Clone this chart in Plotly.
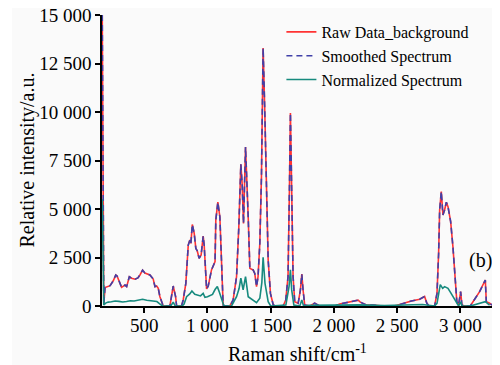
import plotly.graph_objects as go

# Raman shift (cm^-1) positions
raw_x = [168, 180, 190, 210, 230, 255, 275, 285, 303, 321, 348, 361, 382, 400, 427, 450, 466, 487, 505, 519,
         545, 571, 585, 598, 611, 624, 650, 703, 729, 748, 756, 795, 808, 829, 848, 861, 869, 880, 895, 908,
         919, 934, 950, 966, 974, 993, 1006, 1032, 1051, 1060, 1066, 1082, 1098, 1116, 1124, 1137, 1177, 1203,
         1230, 1248, 1264, 1274, 1285, 1301, 1311, 1322, 1335, 1361, 1374, 1388, 1400, 1414, 1427, 1440, 1453,
         1467, 1480, 1498, 1519, 1532, 1598, 1619, 1637, 1648, 1656, 1666, 1677, 1690, 1717, 1735, 1746, 1756,
         1769, 1809, 1848, 1888, 2006, 2046, 2099, 2150, 2191, 2209, 2257, 2309, 2388, 2480, 2546, 2612, 2678,
         2717, 2735, 2751, 2796, 2815, 2828, 2836, 2849, 2862, 2875, 2889, 2902, 2923, 2941, 2960, 2972, 2986,
         3002, 3012, 3033, 3078, 3099, 3152, 3197, 3205, 3231, 3250]
raw_y = [15000, 100, 950, 1000, 1050, 1300, 1600, 1550, 1250, 960, 1080, 1000, 1510, 1430, 1380, 1450, 1600, 1850, 1700, 1650,
         1600, 1390, 1000, 1030, 910, 480, 0, 0, 1030, 480, 0, 0, 310, 1170, 3140, 3400, 3230, 4200, 3750, 2970,
         2850, 2460, 2630, 3600, 3140, 880, 1030, 1860, 2110, 2290, 4430, 5350, 4600, 2030, 50, 0, 0, 310,
         1510, 4090, 7300, 6330, 4260, 8200, 6670, 4600, 1940, 1860, 1680, 1000, 1510, 3230, 6670, 13300, 10100,
         5810, 2370, 650, 90, 0, 0, 310, 1510, 5980, 9950, 5980, 1510, 220, 140, 825, 1640, 825,
         50, 0, 140, 0, 0, 100, 170, 220, 300, 200, 50, 50, 0, 0, 140, 260, 345,
         490, 140, 0, 0, 650, 2720, 4950, 5900, 4690, 4950, 5350, 5120, 4350, 3060, 1170, 220, 50,
         740, 50, 0, 0, 220, 740, 1340, 220, 140, 50]

smoothed_x = list(raw_x)
smoothed_y = [15000, 100, 950, 1000, 1050, 1300, 1600, 1550, 1250, 960, 1080, 1000, 1510, 1430, 1380, 1450, 1600, 1850, 1700, 1650,
              1600, 1390, 1000, 1030, 910, 480, 0, 0, 1030, 480, 0, 0, 310, 1170, 3140, 3400, 3230, 4200, 3750, 2970,
              2850, 2460, 2630, 3600, 3140, 880, 1030, 1860, 2110, 2290, 4430, 5350, 4600, 2030, 50, 0, 0, 310,
              1510, 4090, 7300, 6330, 4260, 8200, 6670, 4600, 1940, 1860, 1680, 1000, 1510, 3230, 6670, 13300, 10100,
              5810, 2370, 650, 90, 0, 0, 310, 1510, 5980, 9950, 5980, 1510, 220, 140, 825, 1640, 825,
              50, 0, 140, 0, 0, 100, 170, 220, 300, 200, 50, 50, 0, 0, 140, 260, 345,
              490, 140, 0, 0, 650, 2720, 4950, 5900, 4690, 4950, 5350, 5120, 4350, 3060, 1170, 220, 50,
              740, 50, 0, 0, 220, 740, 1340, 220, 140, 50]

norm_x = [168, 180, 195, 215, 240, 270, 300, 330, 360, 390, 420, 450, 487, 520, 560, 600, 625, 645, 710, 729,
          745, 800, 815, 835, 860, 877, 900, 920, 945, 966, 980, 1000, 1020, 1040, 1060, 1078, 1095, 1110, 1130,
          1190, 1230, 1250, 1264, 1282, 1301, 1322, 1350, 1388, 1414, 1430, 1440, 1455, 1480, 1500, 1620, 1645,
          1656, 1666, 1683, 1730, 1746, 1760, 1800, 2000, 2200, 2400, 2700, 2796, 2815, 2841, 2860, 2875, 2902,
          2923, 2950, 2972, 2986, 3002, 3012, 3078, 3152, 3197, 3231]
norm_y = [5500, 50, 150, 200, 220, 260, 240, 210, 230, 270, 260, 290, 350, 300, 280, 230, 100, 0, 0, 200,
          0, 0, 100, 480, 620, 770, 600, 560, 520, 650, 450, 480, 560, 600, 850, 1000, 700, 400, 0,
          0, 480, 900, 1430, 830, 1510, 480, 345, 170, 400, 1200, 2510, 1170, 220, 0, 50, 1000,
          1860, 830, 50, 0, 310, 0, 30, 30, 60, 20, 80, 0, 140, 1100, 910, 1000, 910,
          690, 395, 100, 0, 220, 0, 0, 140, 220, 50]

x_tickvals = [500, 1000, 1500, 2000, 2500, 3000]
x_ticktext = ["500", "1 000", "1 500", "2 000", "2 500", "3 000"]
y_tickvals = [0, 2500, 5000, 7500, 10000, 12500, 15000]
y_ticktext = ["0", "2 500", "5 000", "7 500", "10 000", "12 500", "15 000"]

FONT = "Liberation Serif, Times New Roman, serif"

fig = go.Figure()
fig.add_trace(go.Scatter(x=raw_x, y=raw_y, mode="lines", name="Raw Data_background",
                         line=dict(color="#ff3333", width=1.6)))
fig.add_trace(go.Scatter(x=smoothed_x, y=smoothed_y, mode="lines", name="Smoothed Spectrum",
                         line=dict(color="#4040a8", width=1.6, dash="6px,4px")))
fig.add_trace(go.Scatter(x=norm_x, y=norm_y, mode="lines", name="Normalized Spectrum",
                         line=dict(color="#178a7e", width=1.6)))

fig.add_shape(type="rect", xref="paper", yref="paper", x0=-0.2308, x1=1.0026, y0=-0.2027, y1=1.0275,
              fillcolor="#fafafa", line=dict(width=0), layer="below")

fig.add_annotation(text="(b)", xref="paper", yref="paper", x=0.9705, y=0.158, showarrow=False,
                   xanchor="center", yanchor="middle", font=dict(family=FONT, size=20, color="black"))
# axis titles
fig.add_annotation(text="Relative intensity/a.u.", xref="paper", yref="paper", x=-0.1923, y=0.5,
                   textangle=-90, showarrow=False, xanchor="center", yanchor="middle",
                   font=dict(family=FONT, size=20, color="black"))
fig.add_annotation(text="Raman shift/cm<sup>-1</sup>", xref="paper", yref="paper", x=0.5, y=-0.163,
                   showarrow=False, xanchor="center", yanchor="middle",
                   font=dict(family=FONT, size=20, color="black"))

# the page body adds an 8 px margin, so the figure is 8 px smaller on each axis
fig.update_layout(
    width=492, height=357,
    margin=dict(l=94, r=8, t=7, b=59),
    paper_bgcolor="white", plot_bgcolor="#fafafa",
    font=dict(family=FONT, size=19, color="black"),
    showlegend=True,
    legend=dict(x=0.46, y=1.0, xanchor="left", yanchor="top", bgcolor="rgba(0,0,0,0)",
                borderwidth=0, font=dict(family=FONT, size=16, color="black"), tracegroupgap=0),
    xaxis=dict(range=[166, 3250], tickvals=x_tickvals, ticktext=x_ticktext, showgrid=False, zeroline=False,
               automargin=False, ticklabelstandoff=-4, ticklabeloverflow="allow",
               showline=True, linecolor="black", linewidth=1.5, ticks="outside", ticklen=5, tickwidth=1.5,
               tickcolor="black"),
    yaxis=dict(range=[0, 15000], tickvals=y_tickvals, ticktext=y_ticktext, showgrid=False, zeroline=False,
               automargin=False, ticklabeloverflow="allow",
               showline=True, linecolor="black", linewidth=1.5, ticks="outside", ticklen=5, tickwidth=1.5,
               tickcolor="black"),
)

fig.write_html("out.html")
